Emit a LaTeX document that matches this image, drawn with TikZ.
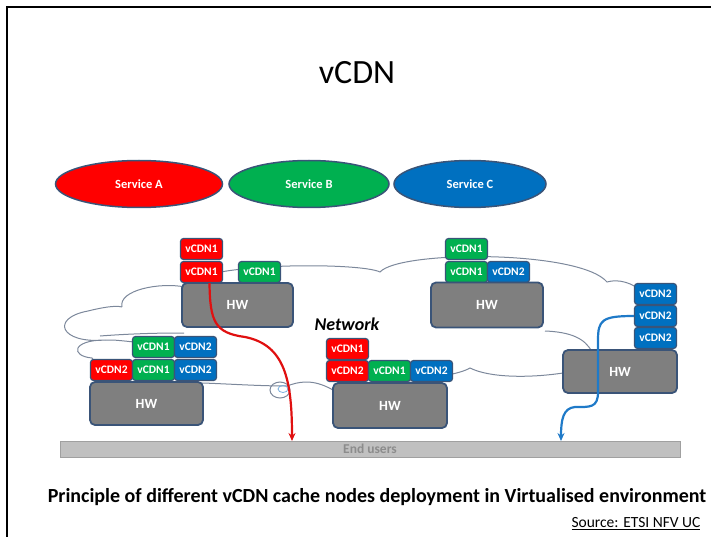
\documentclass[tikz,border=0pt]{standalone}
\usepackage{fontspec}
\setmainfont{Carlito}
\usepackage{xcolor}
\usetikzlibrary{shapes.geometric, positioning, arrows.meta, calc}

\definecolor{cdnred}{HTML}{FF0000}
\definecolor{cdngreen}{HTML}{00B050}
\definecolor{cdnblue}{HTML}{0070C0}
\definecolor{edgeblue}{HTML}{3A5478}
\definecolor{hwgray}{HTML}{7F7F7F}
\definecolor{barfill}{HTML}{C0C0C0}
\definecolor{barline}{HTML}{A0A0A0}
\definecolor{cloudgray}{HTML}{7C889B}
\definecolor{flowred}{HTML}{E01010}
\definecolor{flowblue}{HTML}{1F7AC8}

\tikzset{
  svc/.style={ellipse, draw=edgeblue, line width=1.5pt, text=white, inner sep=0pt,
    font=\fontsize{12.5}{14}\selectfont\bfseries, minimum height=47pt},
  vbox/.style={draw=edgeblue, line width=1.2pt, rounded corners=3pt, text=white, inner sep=0pt,
    font=\fontsize{11.5}{13}\selectfont\bfseries, minimum width=42pt, minimum height=21pt},
  hwbox/.style={draw=edgeblue, fill=hwgray, line width=1.8pt, rounded corners=5pt, text=white,
    inner sep=0pt, font=\fontsize{14}{16}\selectfont\bfseries},
  flow/.style={line width=2.2pt, -{Stealth[length=8pt,width=7pt]}},
  cloudline/.style={draw=cloudgray, line width=1pt}
}

\begin{document}
\begin{tikzpicture}[x=1pt, y=-1pt]
  \useasboundingbox (0,0) rectangle (711,537);
  \draw[line width=2pt] (7,537) -- (7,7) -- (711,7);

  % title
  \node[font=\fontsize{34}{40}\selectfont] (title) at (357,73) {vCDN};

  % services
  \node[svc, fill=cdnred, minimum width=167pt] (svcA) at (139,184) {Service A};
  \node[svc, fill=cdngreen, minimum width=160pt] (svcB) at (309,184) {Service B};
  \node[svc, fill=cdnblue, minimum width=152pt] (svcC) at (470,184) {Service C};

  % network cloud
  \draw[cloudline] (122,307) .. controls (118,290) and (160,282) .. (185,287)
    .. controls (195,262) and (360,262) .. (380,272)
    .. controls (400,250) and (580,250) .. (607,282)
    .. controls (630,275) and (665,300) .. (650,330)
    .. controls (665,355) and (600,375) .. (563,373)
    .. controls (530,378) and (490,378) .. (470,368)
    .. controls (450,380) and (360,385) .. (333,390)
    .. controls (312,378) and (298,382) .. (287,386)
    .. controls (260,386) and (230,384) .. (203,383)
    .. controls (150,392) and (110,385) .. (92,358)
    .. controls (70,356) and (72,340) .. (105,340)
    .. controls (60,344) and (50,318) .. (88,311)
    .. controls (100,308) and (115,305) .. (122,307);
  \draw[cloudline] (100,336) .. controls (140,333) and (170,333) .. (184,333);
  \draw[cloudline] (105,340) .. controls (115,340) .. (134,342);
  \draw[cloudline] (545,331) .. controls (570,332) and (585,338) .. (592,352);
  \draw[cloudline] (280,390) ellipse (10 and 8);
  \draw[draw=flowblue!60, line width=0.8pt] (283,389) ellipse (5 and 3.5);
  \node[font=\fontsize{18}{20}\selectfont\bfseries\itshape] (net) at (347,324) {Network};

  % end users
  \node[draw=barline, fill=barfill, line width=1pt, minimum width=620pt, minimum height=16pt,
    inner sep=0pt, text=gray!90, font=\fontsize{13.5}{15}\selectfont\bfseries] (users) at (370,449) {End users};

  % stack A
  \node[vbox, fill=cdnred] (a1) at (201.5,249) {vCDN1};
  \node[vbox, fill=cdnred] (a2) at (201.5,272) {vCDN1};
  \node[vbox, fill=cdngreen] (a3) at (259.5,272) {vCDN1};
  \node[hwbox, minimum width=111pt, minimum height=44pt] (hwA) at (237.5,305) {HW};

  % stack B
  \node[vbox, fill=cdngreen] (b1) at (466.5,249) {vCDN1};
  \node[vbox, fill=cdngreen] (b2) at (466.5,272) {vCDN1};
  \node[vbox, fill=cdnblue] (b3) at (508.5,272) {vCDN2};
  \node[hwbox, minimum width=112pt, minimum height=45pt] (hwB) at (487,305) {HW};

  % stack C
  \node[vbox, fill=cdnred] (c1) at (347.5,349) {vCDN1};
  \node[vbox, fill=cdnred] (c2) at (347.5,371) {vCDN2};
  \node[vbox, fill=cdngreen] (c3) at (389.5,371) {vCDN1};
  \node[vbox, fill=cdnblue] (c4) at (431.5,371) {vCDN2};
  \node[hwbox, minimum width=114pt, minimum height=45pt] (hwC) at (390,405.5) {HW};

  % stack D
  \node[vbox, fill=cdngreen] (d1) at (153.5,347) {vCDN1};
  \node[vbox, fill=cdnblue] (d2) at (195.5,347) {vCDN2};
  \node[vbox, fill=cdnred] (d3) at (111.5,370) {vCDN2};
  \node[vbox, fill=cdngreen] (d4) at (153.5,370) {vCDN1};
  \node[vbox, fill=cdnblue] (d5) at (195.5,370) {vCDN2};
  \node[hwbox, minimum width=113pt, minimum height=43pt] (hwD) at (146.5,403.5) {HW};

  % stack E
  \node[vbox, fill=cdnblue] (e1) at (655.5,294) {vCDN2};
  \node[vbox, fill=cdnblue] (e2) at (655.5,316) {vCDN2};
  \node[vbox, fill=cdnblue] (e3) at (655.5,338) {vCDN2};
  \node[hwbox, minimum width=114pt, minimum height=43pt] (hwE) at (620,371.5) {HW};

  % delivery paths
  \coordinate (redin) at (292,441);
  \coordinate (bluein) at (561,441);
  \draw[flow, flowred] ([xshift=8pt]a2.south) .. controls (210,322) and (215,333) .. (245,337)
    .. controls (285,345) and (292,380) .. (redin);
  \draw[flow, flowblue] (e2.west) .. controls (602,316) and (598,320) .. (598,340)
    -- (598,392) .. controls (598,408) and (590,407) .. (575,407)
    .. controls (563,408) and (561,420) .. (bluein);

  % caption
  \node[font=\fontsize{20}{22}\selectfont\bfseries] (caption) at (377,497) {Principle of different vCDN cache nodes deployment in Virtualised environment};
  \node[anchor=east, font=\fontsize{15.5}{17}\selectfont] (source) at (704,524) {\underline{Source: ETSI NFV UC}};
\end{tikzpicture}
\end{document}
